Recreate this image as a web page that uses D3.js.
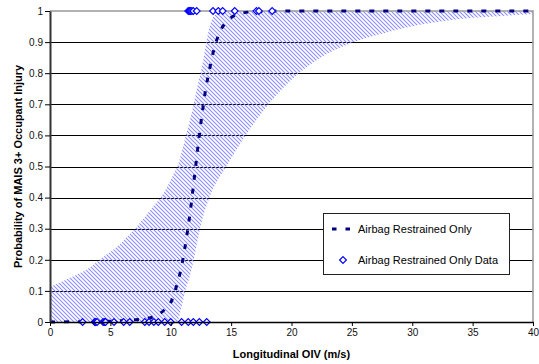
<!DOCTYPE html>
<html>
<head>
<meta charset="utf-8">
<script src="https://cdn.jsdelivr.net/npm/d3@7"></script>
<style>
  body { margin: 0; background: #fff; }
  svg { display: block; }
</style>
</head>
<body>
<div id="chart"></div>
<script>
// DATA
var xTicks = [0, 5, 10, 15, 20, 25, 30, 35, 40];
var yTicks = [0, 0.1, 0.2, 0.3, 0.4, 0.5, 0.6, 0.7, 0.8, 0.9, 1];

// fitted curve (dashed)
var fitX = [0, 4, 6, 7, 8, 8.5, 9, 9.5, 10, 10.35, 10.7, 11, 11.3, 11.6, 11.85, 12.06, 12.3, 12.6, 12.9, 13.2, 13.6, 14.1, 14.8, 15.6, 17, 20, 25, 30, 35, 40];
var fitP = [0, 0.002, 0.004, 0.007, 0.011, 0.016, 0.025, 0.04, 0.062, 0.1, 0.146, 0.2, 0.27, 0.35, 0.43, 0.5, 0.58, 0.67, 0.75, 0.81, 0.88, 0.935, 0.972, 0.99, 0.998, 1, 1, 1, 1, 1];

// confidence band edges
var upperX = [0, 1, 2, 3, 4.3, 5.5, 6.5, 7.2, 8.3, 9.4, 10.1, 10.65, 11, 11.3, 11.6, 12.15, 12.7, 13.1, 13.5, 14, 15, 40];
var upperP = [0.113, 0.13, 0.148, 0.168, 0.206, 0.24, 0.278, 0.307, 0.36, 0.414, 0.465, 0.511, 0.56, 0.608, 0.65, 0.747, 0.844, 0.93, 0.979, 0.995, 1, 1];
var lowerX = [0, 10.5, 10.9, 11.2, 11.6, 11.9, 12.4, 13.2, 14.6, 16.2, 18.1, 20.6, 22.4, 25.2, 27.8, 30.5, 32.5, 35, 37.8, 40];
var lowerP = [0, 0, 0.05, 0.1, 0.15, 0.2, 0.296, 0.4, 0.5, 0.6, 0.7, 0.8, 0.85, 0.9, 0.93, 0.955, 0.967, 0.978, 0.985, 0.99];

// observed cases
var zeroDataX = [2.7, 3.7, 3.75, 3.8, 3.9, 4.4, 4.5, 4.6, 5.3, 6.1, 6.6, 7.85, 8.2, 8.6, 8.97, 9.5, 10.0, 10.9, 11.45, 11.87, 12.37, 12.98];
var oneDataX = [11.45, 11.55, 11.65, 11.75, 11.87, 12.15, 13.5, 13.94, 14.3, 15.3, 17.1, 17.3, 18.4];

var legendLabels = ["Airbag Restrained Only", "Airbag Restrained Only Data"];

// CHART SETUP
var font = "'Liberation Sans', Arial, sans-serif";
var svg = d3
  .select("#chart")
  .append("svg")
  .attr("width", 539)
  .attr("height", 364)
  .style("font-family", font);

var xScale = d3.scaleLinear().domain([0, 40]).range([50, 533]);
var yScale = d3.scaleLinear().domain([0, 1]).range([322, 11]);

var defs = svg.append("defs");
defs
  .append("pattern")
  .attr("id", "hatch")
  .attr("patternUnits", "userSpaceOnUse")
  .attr("width", 4)
  .attr("height", 4)
  .append("path")
  .attr("d", "M-1,3 L1,5 M0,0 L4,4 M3,-1 L5,1")
  .attr("stroke", "#8c8cff")
  .attr("stroke-width", 1.05);

var lowerPts = lowerX.map((x, i) => [x, lowerP[i]]);
var upperPts = upperX.map((x, i) => [x, upperP[i]]);
var fitPts = fitX.map((x, i) => [x, fitP[i]]);

defs
  .append("clipPath")
  .attr("id", "lowerClip")
  .append("path")
  .attr(
    "d",
    d3
      .area()
      .curve(d3.curveMonotoneX)
      .x((d) => xScale(d[0]))
      .y0((d) => yScale(d[1]))
      .y1(yScale(1) - 2)(lowerPts)
  );

// GRIDLINES
svg
  .selectAll(".grid")
  .data(yTicks.filter((d) => d > 0 && d < 1))
  .enter()
  .append("line")
  .attr("class", "grid")
  .attr("x1", xScale(0))
  .attr("x2", xScale(40))
  .attr("y1", (d) => Math.round(yScale(d)) + 0.5)
  .attr("y2", (d) => Math.round(yScale(d)) + 0.5)
  .attr("stroke", "#000")
  .attr("stroke-width", 1);

// BAND
svg
  .append("path")
  .attr(
    "d",
    d3
      .area()
      .curve(d3.curveMonotoneX)
      .x((d) => xScale(d[0]))
      .y0(yScale(0))
      .y1((d) => yScale(d[1]))(upperPts)
  )
  .attr("fill", "url(#hatch)")
  .attr("clip-path", "url(#lowerClip)");

// plot border (top / right)
svg
  .append("path")
  .attr("d", "M" + xScale(0) + "," + yScale(1) + "H" + xScale(40) + "V" + yScale(0))
  .attr("fill", "none")
  .attr("stroke", "#999")
  .attr("stroke-width", 1.5);

// FIT LINE
svg
  .append("path")
  .attr(
    "d",
    d3
      .line()
      .curve(d3.curveMonotoneX)
      .x((d) => xScale(d[0]))
      .y((d) => yScale(d[1]))(fitPts)
  )
  .attr("fill", "none")
  .attr("stroke", "#000080")
  .attr("stroke-width", 3)
  .attr("stroke-dasharray", "5,9");

// DATA POINTS
var diamond = "M0,-3.4L3.4,0L0,3.4L-3.4,0Z";
var points = zeroDataX.map((x) => [x, 0]).concat(oneDataX.map((x) => [x, 1]));
svg
  .selectAll(".pt")
  .data(points)
  .enter()
  .append("path")
  .attr("class", "pt")
  .attr("d", diamond)
  .attr("transform", (d) => "translate(" + xScale(d[0]) + "," + yScale(d[1]) + ")")
  .attr("fill", "#fff")
  .attr("stroke", "#0000ff")
  .attr("stroke-width", 1.2);

// AXES
var xAxis = d3
  .axisBottom(xScale)
  .tickValues(xTicks)
  .tickSize(4)
  .tickSizeOuter(0)
  .tickPadding(3)
  .tickFormat((d) => d);
var gx = svg.append("g").attr("transform", "translate(0," + yScale(0) + ")").call(xAxis);
gx.select(".domain").attr("stroke", "#000").attr("stroke-width", 1.6);
gx.selectAll(".tick line").attr("stroke", "#000");
gx.selectAll("text").style("font-size", "10px").attr("fill", "#111");

var yAxis = d3
  .axisLeft(yScale)
  .tickValues(yTicks)
  .tickSize(5)
  .tickSizeOuter(0)
  .tickPadding(2)
  .tickFormat((d) => d);
var gy = svg.append("g").attr("transform", "translate(" + xScale(0) + ",0)").call(yAxis);
gy.select(".domain").attr("stroke", "#333").attr("stroke-width", 2);
gy.selectAll(".tick line").attr("stroke", "#000");
gy.selectAll("text").style("font-size", "10px").attr("fill", "#111");

// AXIS TITLES
svg
  .append("text")
  .attr("x", (xScale(0) + xScale(40)) / 2)
  .attr("y", 358)
  .attr("text-anchor", "middle")
  .style("font-size", "11px")
  .style("font-weight", "bold")
  .text("Longitudinal OIV (m/s)");

svg
  .append("text")
  .attr("transform", "translate(22," + (yScale(0) + yScale(1)) / 2 + ") rotate(-90)")
  .attr("text-anchor", "middle")
  .style("font-size", "11px")
  .style("font-weight", "bold")
  .text("Probability of MAIS 3+ Occupant Injury");

// LEGEND
var legend = svg.append("g").attr("transform", "translate(323,213)");
legend
  .append("rect")
  .attr("x", 0.5)
  .attr("y", 0.5)
  .attr("width", 186)
  .attr("height", 61)
  .attr("fill", "#fff")
  .attr("stroke", "#222")
  .attr("stroke-width", 1);
legend
  .append("line")
  .attr("x1", 9)
  .attr("x2", 27)
  .attr("y1", 16)
  .attr("y2", 16)
  .attr("stroke", "#000080")
  .attr("stroke-width", 3)
  .attr("stroke-dasharray", "4.5,9");
legend
  .append("path")
  .attr("d", diamond)
  .attr("transform", "translate(20,47)")
  .attr("fill", "#fff")
  .attr("stroke", "#0000ff")
  .attr("stroke-width", 1.2);
legend
  .selectAll(".leg-text")
  .data(legendLabels)
  .enter()
  .append("text")
  .attr("class", "leg-text")
  .attr("x", 35)
  .attr("y", (d, i) => 20 + i * 31)
  .style("font-size", "11px")
  .attr("fill", "#000")
  .text((d) => d);
</script>
</body>
</html>
